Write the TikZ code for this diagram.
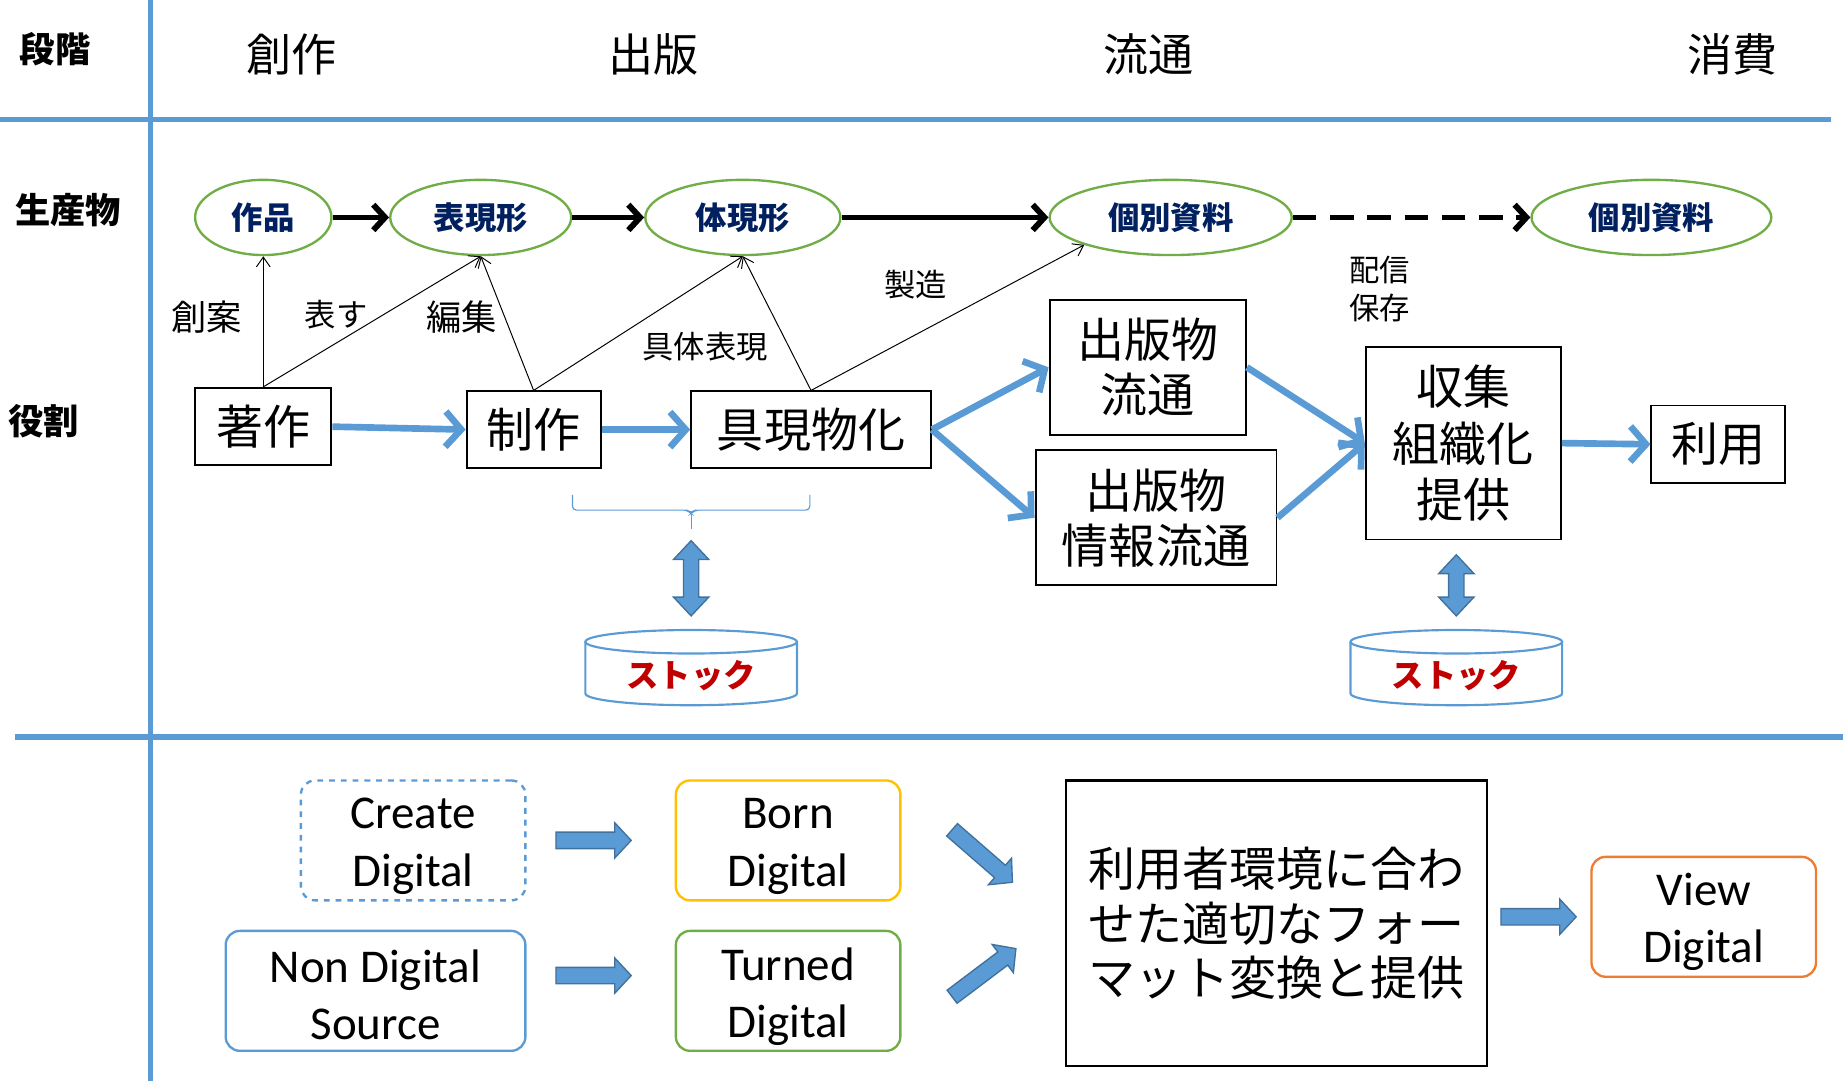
\documentclass[tikz,border=0pt]{standalone}
\usepackage{fontspec}
\setmainfont{Carlito}
\newfontfamily\jp{Noto Sans CJK JP}
\usetikzlibrary{arrows.meta,shapes.geometric}
\definecolor{lblue}{HTML}{5B9BD5}
\definecolor{dblue}{HTML}{41719C}
\definecolor{pgreen}{HTML}{70AD47}
\definecolor{navy}{HTML}{002060}
\definecolor{gold}{HTML}{FFC000}
\definecolor{orng}{HTML}{ED7D31}
\definecolor{dred}{HTML}{C00000}
\newcommand\blkarrow[4]{%
\begin{scope}[shift={(#1,#2)},rotate=#3]
\draw[blkarr] (0,-7) -- (#4-14,-7) -- (#4-14,-15) -- (#4,0) -- (#4-14,15) -- (#4-14,7) -- (0,7) -- cycle;
\end{scope}}
\newcommand\dblarrow[3]{%
\draw[blkarr] (#1,#2) -- (#1+15,#2+16) -- (#1+6.5,#2+16) -- (#1+6.5,#3-16) -- (#1+15,#3-16) -- (#1,#3) -- (#1-15,#3-16) -- (#1-6.5,#3-16) -- (#1-6.5,#2+16) -- (#1-15,#2+16) -- cycle;}
\newcommand\stockcyl[2]{%
\draw[cyl] (#1-90,546) -- (#1-90,590) arc[start angle=180,end angle=0,x radius=90,y radius=10] -- (#1+90,546);
\draw[cyl] (#1,546) ellipse[x radius=90,y radius=10];
\node[stocktxt] (#2) at (#1,575) {ストック};}
\tikzset{
  sepline/.style={draw=lblue},
  hdr/.style={font=\jp\fontsize{23}{27}\selectfont},
  rowlbl/.style={font=\jp\bfseries\fontsize{18}{22}\selectfont},
  prod/.style={ellipse,draw=pgreen,line width=1.2pt,text=navy,inner sep=0pt,minimum height=64*0.6pt,font=\jp\bfseries\fontsize{16}{18}\selectfont},
  rolebox/.style={draw,line width=1pt,inner sep=0pt,align=center,font=\jp\fontsize{24}{28}\selectfont},
  lbl/.style={font=\jp\fontsize{16}{19}\selectfont,inner sep=0pt},
  thinarr/.style={-{Straight Barb[length=5pt,width=7pt]},line width=0.5pt},
  thickarr/.style={-{Straight Barb[length=6pt,width=13pt]},line width=3pt},
  bluearr/.style={-{Straight Barb[length=8pt,width=18pt]},line width=3.4pt,draw=lblue},
  blkarr/.style={fill=lblue,draw=dblue,line width=0.7pt},
  cyl/.style={draw=lblue,line width=1.1pt},
  stocktxt/.style={text=dred,font=\jp\bfseries\fontsize{16.5}{19}\selectfont,inner sep=0pt},
  rbox/.style={rounded corners=12*0.6pt,line width=1.2pt,inner sep=0pt,minimum height=102*0.6pt},
  btxt/.style={inner sep=0pt,align=center,font=\fontsize{24}{29.4}\selectfont},
}
\begin{document}
\begin{tikzpicture}[x=0.6pt,y=-0.6pt]
\useasboundingbox (0,0) rectangle (1568,920);
% separators
\draw[sepline,line width=3pt] (128,0) -- (128,920);
\draw[sepline,line width=2.6pt] (0,102) -- (1558,102);
\draw[sepline,line width=2.6pt] (13,627) -- (1568,627);
% headers
\node[rowlbl] (dk) at (47,42) {段階};
\node[hdr] (h1) at (248,46) {創作};
\node[hdr] (h2) at (556,46) {出版};
\node[hdr] (h3) at (977,46) {流通};
\node[hdr] (h4) at (1474,46) {消費};
\node[rowlbl] (sb) at (58,179) {生産物};
\node[rowlbl] (yw) at (37,358) {役割};
% products
\node[prod,minimum width=116*0.6pt] (zp) at (224,185) {作品};
\node[prod,minimum width=154*0.6pt] (hg) at (409,185) {表現形};
\node[prod,minimum width=166*0.6pt] (tg) at (632,185) {体現形};
\node[prod,minimum width=206*0.6pt] (kb1) at (996,185) {個別資料};
\node[prod,minimum width=204*0.6pt] (kb2) at (1405,185) {個別資料};
\draw[thickarr] (zp.east) -- (hg.west);
\draw[thickarr] (hg.east) -- (tg.west);
\draw[thickarr] (tg.east) -- (kb1.west);
\draw[thickarr,dash pattern=on 12pt off 7pt] (kb1.east) -- (kb2.west);
% roles
\node[rolebox,minimum width=116*0.6pt,minimum height=66*0.6pt] (cz) at (224,363) {著作};
\node[rolebox,minimum width=114*0.6pt,minimum height=65*0.6pt] (sz) at (454,365.5) {制作};
\node[rolebox,minimum width=204*0.6pt,minimum height=65*0.6pt] (gb) at (690,365.5) {具現物化};
\node[rolebox,minimum width=167*0.6pt,minimum height=115*0.6pt] (sr) at (976.5,312.5) {出版物\\流通};
\node[rolebox,minimum width=205*0.6pt,minimum height=115*0.6pt] (jr) at (983.5,440.5) {出版物\\情報流通};
\node[rolebox,minimum width=166*0.6pt,minimum height=164*0.6pt,font=\jp\fontsize{24}{29}\selectfont] (sk) at (1245,377) {収集\\組織化\\提供};
\node[rolebox,minimum width=114*0.6pt,minimum height=66*0.6pt] (ry) at (1462,378) {利用};
% thin arrows
\draw[thinarr] (cz.north) -- (zp.south);
\draw[thinarr] (cz.north) -- (hg.south);
\draw[thinarr] (sz.north) -- (hg.south);
\draw[thinarr] (sz.north) -- (tg.south);
\draw[thinarr] (gb.north) -- (tg.south);
\draw[thinarr] (gb.north) -- (kb1.south west);
\node[lbl,font=\jp\fontsize{18}{20}\selectfont] (l1) at (176,270) {創案};
\node[lbl] (l2) at (286,268) {表す};
\node[lbl,font=\jp\fontsize{18}{20}\selectfont] (l3) at (393,270) {編集};
\node[lbl] (l4) at (600,295) {具体表現};
\node[lbl] (l5) at (779,242) {製造};
\node[lbl,align=left,font=\jp\fontsize{15.5}{19.5}\selectfont] (l6) at (1174,246) {配信\\保存};
% blue arrows
\draw[bluearr] (cz.east) -- (sz.west);
\draw[bluearr] (sz.east) -- (gb.west);
\draw[bluearr] (gb.east) -- (sr.west);
\draw[bluearr] (gb.east) -- (jr.west);
\draw[bluearr] (sr.east) -- (sk.west);
\draw[bluearr] (jr.east) -- (sk.west);
\draw[bluearr] (sk.east) -- (ry.west);
% brace
\draw[draw=lblue,line width=0.6pt,rounded corners=2pt] (487,421) -- (487,434) -- (585,434) -- (588,437) -- (591,434) -- (689,434) -- (689,421);
\draw[draw=lblue,line width=0.6pt] (588,437) -- (588,450);
% double arrows and stocks
\dblarrow{588}{460}{524}
\dblarrow{1239}{472}{524}
\stockcyl{588}{st1}
\stockcyl{1239}{st2}
% bottom section
\node[rbox,draw=lblue,dashed,minimum width=191*0.6pt] (cd) at (351.5,715) {};
\node[btxt] (cdt) at ([yshift=-3pt]cd.center) {Create\\Digital};
\node[rbox,draw=gold,minimum width=191*0.6pt] (bd) at (670.5,715) {};
\node[btxt] (bdt) at ([yshift=-3pt]bd.center) {Born\\Digital};
\node[rbox,draw=lblue,minimum width=255*0.6pt] (nd) at (319.5,843) {};
\node[btxt] (ndt) at ([yshift=-2pt]nd.center) {Non Digital\\Source};
\node[rbox,draw=pgreen,minimum width=191*0.6pt] (td) at (670.5,843) {};
\node[btxt] (tdt) at ([yshift=-3pt]td.center) {Turned\\Digital};
\node[draw,line width=1.3pt,inner sep=0pt,align=center,minimum width=358*0.6pt,minimum height=243*0.6pt,font=\jp\fontsize{24}{28}\selectfont] (big) at (1086,785.5) {利用者環境に合わ\\せた適切なフォー\\マット変換と提供};
\node[rbox,draw=orng,minimum width=191*0.6pt] (vd) at (1449.5,780) {};
\node[btxt] (vdt) at ([yshift=-2.5pt]vd.center) {View\\Digital};
\blkarrow{473}{715}{0}{64}
\blkarrow{473}{830}{0}{64}
\blkarrow{810}{706}{-41}{68}
\blkarrow{810}{848}{37}{68}
\blkarrow{1277}{780}{0}{64}
\end{tikzpicture}
\end{document}
